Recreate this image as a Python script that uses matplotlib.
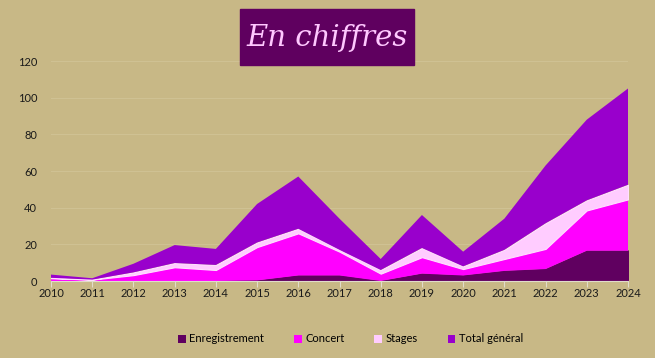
import numpy as np
import matplotlib
matplotlib.use('Agg')
import matplotlib.pyplot as plt
from matplotlib.patches import Patch

# %% data

years = list(range(2010, 2025))
enregistrement = [0, 0, 0, 0, 0, 0.3, 3, 3, 0, 4, 3, 5.5, 6.5, 16.5, 16.5]
concert = [1.5, 0.75, 3.2, 7.5, 6, 18.2, 23, 13, 4, 9, 3.5, 6.5, 11, 22, 28]
stages = [0.25, 0, 1.5, 2.3, 2.75, 2.5, 2.5, 1, 2, 5, 1.5, 5, 14, 5.5, 8]
total = [e + c + s for e, c, s in zip(enregistrement, concert, stages)]

labels = ['Enregistrement', 'Concert', 'Stages', 'Total général']
colors = ['#600060', '#FF00FF', '#FFCCFF', '#9900CC']

bg = '#C8B886'

# %% render

fig = plt.figure(figsize=(6.55, 3.58), dpi=100, facecolor=bg)
ax = fig.add_axes([51 / 655, 1 - 281 / 358, 577 / 655, 220 / 358])
ax.set_facecolor(bg)

polys = ax.stackplot(years, enregistrement, concert, stages, total,
                     colors=colors, zorder=2)
polys[0].set_edgecolor(colors[0])
polys[0].set_linewidth(1.2)
polys[2].set_edgecolor('#FFE0FF')
polys[2].set_linewidth(0.8)

ax.set_xlim(2010, 2024)
ax.set_ylim(0, 120)
ax.set_yticks(range(0, 121, 20))
ax.set_xticks(years)
ax.grid(axis='y', color='#CFC193', linewidth=0.8, zorder=0)
for s in ['top', 'right', 'left']:
    ax.spines[s].set_visible(False)
ax.spines['bottom'].set_color('#E0DCCB')
ax.spines['bottom'].set_zorder(3)
ax.tick_params(axis='y', length=0, labelsize=8, pad=10, labelcolor='#1A1A1A')
ax.tick_params(axis='x', length=4, color='#E0DCCB', labelsize=8,
               pad=1, labelcolor='#1A1A1A')
for lab in ax.get_xticklabels() + ax.get_yticklabels():
    lab.set_fontfamily('Lato')

# title box
fig.patches.append(plt.Rectangle((240 / 655, 1 - 65 / 358), 174 / 655, 56 / 358,
                                 transform=fig.transFigure, color='#5F005F', zorder=5))
fig.text(327 / 655, 1 - 38 / 358, 'En chiffres', color='#FFC8FF', fontsize=21,
         fontstyle='italic', family='DejaVu Serif', ha='center', va='center', zorder=6)

handles = [Patch(facecolor=c, label=l) for c, l in zip(colors, labels)]
leg = fig.legend(handles=handles, loc='center', bbox_to_anchor=(0.535, 1 - 339 / 358),
                 ncol=4, frameon=False, handlelength=0.7, handleheight=0.7,
                 handletextpad=0.3, columnspacing=2.7, prop={'family': 'Lato', 'size': 8})

plt.savefig('out.png', dpi=100, facecolor=bg)
